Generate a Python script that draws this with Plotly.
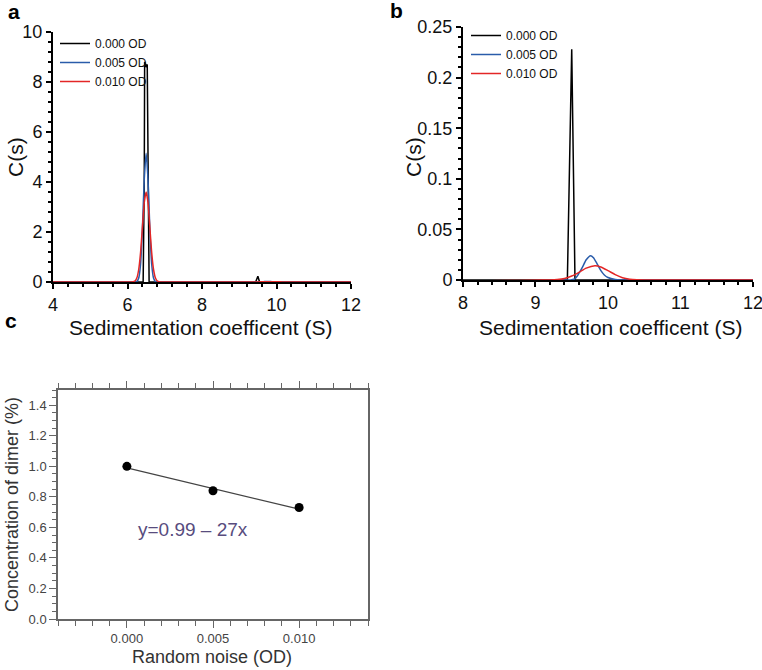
import plotly.graph_objects as go

W, H = 762, 670

# ---------------- data ----------------
series_names = ["0.000 OD", "0.005 OD", "0.010 OD"]
series_colors = ["#000000", "#2a5caa", "#e32626"]

# 0.000 OD : very narrow spikes (monomer ~6.5 S, dimer ~9.5 S)
black_x = [4.0, 6.42, 6.45, 6.46, 6.48, 6.49, 6.53, 6.58, 6.62, 9.40, 9.44, 9.50, 9.545, 9.60, 12.0]
black_y = [0.0, 0.0, 4.0, 8.8, 8.75, 8.6, 8.7, 0.0, 0.0, 0.0, 0.0, 0.228, 0.0, 0.0, 0.0]

# 0.005 OD
blue_x = [4.0, 6.15, 6.20, 6.25, 6.30, 6.35, 6.40, 6.45, 6.50, 6.55, 6.60, 6.65, 6.70, 6.75, 6.80, 6.85,
          9.45, 9.50, 9.55, 9.60, 9.65, 9.70, 9.76, 9.80, 9.85, 9.90, 9.95, 10.00, 10.10, 10.20, 10.30, 12.0]
blue_y = [0.0, 0.0, 0.002, 0.02, 0.15, 0.70, 2.12, 4.12, 5.15, 4.12, 2.12, 0.70, 0.15, 0.02, 0.002, 0.0,
          0.0, 0.0003, 0.0015, 0.0067, 0.013, 0.020, 0.024, 0.022, 0.016, 0.0095, 0.005, 0.0025, 0.0005, 0.0001, 0.0, 0.0]

# 0.010 OD
red_x = [4.0, 6.05, 6.10, 6.15, 6.20, 6.25, 6.30, 6.35, 6.40, 6.45, 6.50, 6.55, 6.60, 6.65, 6.70, 6.75, 6.80, 6.85, 6.90, 6.95,
         9.10, 9.20, 9.30, 9.40, 9.50, 9.60, 9.70, 9.82, 9.90, 10.00, 10.10, 10.20, 10.30, 10.40, 10.50, 12.0]
red_y = [0.0, 0.0, 0.002, 0.008, 0.04, 0.16, 0.49, 1.17, 2.18, 3.18, 3.60, 3.18, 2.18, 1.17, 0.49, 0.16, 0.04, 0.008, 0.002, 0.0,
         0.0, 0.0001, 0.0005, 0.0015, 0.0039, 0.0076, 0.0117, 0.0140, 0.0129, 0.0093, 0.0053, 0.0023, 0.0008, 0.0002, 0.0, 0.0]

series_x = [black_x, blue_x, red_x]
series_y = [black_y, blue_y, red_y]
series_shape = ["linear", "spline", "spline"]

# panel c
noise_od = [0.000, 0.005, 0.010]
dimer_conc = [1.00, 0.84, 0.73]
fit_x = [0.000, 0.010]
fit_y = [0.99, 0.72]
fit_label = "y=0.99 \u2013 27x"

# tick labels
a_xticks = [4, 6, 8, 10, 12]
a_yticks = [0, 2, 4, 6, 8, 10]
b_xticks = [8, 9, 10, 11, 12]
b_yticks = [0, 0.05, 0.1, 0.15, 0.2, 0.25]
b_yticktext = ["0", "0.05", "0.1", "0.15", "0.2", "0.25"]

# ---------------- figure ----------------
FONT = "Liberation Sans, Arial, sans-serif"


def px_x(x):
    return x / W


def px_y(y):
    return 1 - y / H


fig = go.Figure()

for i in range(3):
    for xa, ya, leg in (("x", "y", "legend"), ("x2", "y2", "legend2")):
        fig.add_trace(go.Scatter(
            x=series_x[i], y=series_y[i], mode="lines", name=series_names[i],
            line=dict(color=series_colors[i], width=1.5, shape=series_shape[i], smoothing=0.6),
            xaxis=xa, yaxis=ya, legend=leg, showlegend=True, cliponaxis=True,
        ))

fig.add_trace(go.Scatter(x=fit_x, y=fit_y, mode="lines", line=dict(color="#444444", width=1.2),
                         xaxis="x3", yaxis="y3", showlegend=False))
fig.add_trace(go.Scatter(x=noise_od, y=dimer_conc, mode="markers",
                         marker=dict(color="#000000", size=9), xaxis="x3", yaxis="y3", showlegend=False))

ab_axis = dict(showline=True, linecolor="#000000", linewidth=2, ticks="outside", tickcolor="#000000",
               ticklen=5, tickwidth=1.5, showgrid=False, zeroline=False, automargin=False,
               ticklabeloverflow="allow",
               tickfont=dict(family=FONT, size=18, color="#111111"))

c_axis = dict(showline=True, linecolor="#666666", linewidth=1.5, ticks="outside", tickcolor="#666666",
              ticklen=7, tickwidth=1.2, showgrid=False, zeroline=False, automargin=False,
              tickfont=dict(family=FONT, size=13, color="#444444"))

fig.update_layout(
    width=W, height=H, margin=dict(l=0, r=0, t=0, b=0),
    paper_bgcolor="white", plot_bgcolor="white",
    font=dict(family=FONT),
    xaxis=dict(ab_axis, domain=[px_x(53), px_x(351)], range=[4, 12], tickvals=a_xticks,
               minor=dict(dtick=0.4, ticklen=3, tickcolor="#000000", ticks="outside"), anchor="y"),
    yaxis=dict(ab_axis, domain=[px_y(282), px_y(32)], range=[0, 10], tickvals=a_yticks,
               minor=dict(dtick=0.4, ticklen=3, tickcolor="#000000", ticks="outside"), anchor="x"),
    xaxis2=dict(ab_axis, domain=[px_x(463), px_x(753)], range=[8, 12.001], tickvals=b_xticks,
                minor=dict(dtick=0.2, ticklen=3, tickcolor="#000000", ticks="outside"), anchor="y2"),
    yaxis2=dict(ab_axis, domain=[px_y(280), px_y(27)], range=[0, 0.25], tickvals=b_yticks,
                ticktext=b_yticktext,
                minor=dict(dtick=0.01, ticklen=3, tickcolor="#000000", ticks="outside"), anchor="x2"),
    xaxis3=dict(c_axis, domain=[px_x(58), px_x(368)], range=[-0.004, 0.014], tickvals=noise_od,
                tickformat=".3f", mirror="ticks",
                minor=dict(dtick=0.001, ticklen=5, tickcolor="#666666", ticks="outside"), anchor="y3"),
    yaxis3=dict(c_axis, domain=[px_y(619), px_y(390)], range=[0, 1.5], dtick=0.2, tick0=0,
                tickformat=".1f", mirror=True,
                minor=dict(dtick=0.05, ticklen=4, tickcolor="#666666", ticks="outside"), anchor="x3"),
    legend=dict(x=px_x(55), y=px_y(29), xanchor="left", yanchor="top", bgcolor="rgba(0,0,0,0)",
                font=dict(family=FONT, size=12, color="#111111"), tracegroupgap=0, itemwidth=30),
    legend2=dict(x=px_x(466), y=px_y(21), xanchor="left", yanchor="top", bgcolor="rgba(0,0,0,0)",
                 font=dict(family=FONT, size=12, color="#111111"), tracegroupgap=0, itemwidth=30),
    showlegend=True,
)

anns = [
    ("a", 14, 11, 21, 0, "#000000", True),
    ("b", 396, 10, 21, 0, "#000000", True),
    ("c", 11, 320, 21, 0, "#000000", True),
    ("C(s)", 15, 157, 21, -90, "#111111", False),
    ("Sedimentation coefficent (S)", 200, 327, 21, 0, "#111111", False),
    ("C(s)", 413, 157, 21, -90, "#111111", False),
    ("Sedimentation coefficent (S)", 610, 327, 21, 0, "#111111", False),
    ("Concentration of dimer (%)", 12, 505, 18, -90, "#333333", False),
    ("Random noise (OD)", 212, 657, 18, 0, "#333333", False),
]
for text, x, y, size, ang, col, bold in anns:
    fig.add_annotation(text=f"<b>{text}</b>" if bold else text, xref="paper", yref="paper",
                       x=px_x(x), y=px_y(y), xanchor="center", yanchor="middle", showarrow=False,
                       textangle=ang, font=dict(family=FONT, size=size, color=col))

fig.add_annotation(text=fit_label, xref="x3", yref="y3", x=0.00385, y=0.585, showarrow=False,
                   xanchor="center", yanchor="middle", font=dict(family=FONT, size=19, color="#584c7e"))

fig.write_html("out.html", config={"displayModeBar": False},
               post_script="document.body.style.margin='0';document.body.style.padding='0';"
                           "document.body.style.overflow='hidden';")
